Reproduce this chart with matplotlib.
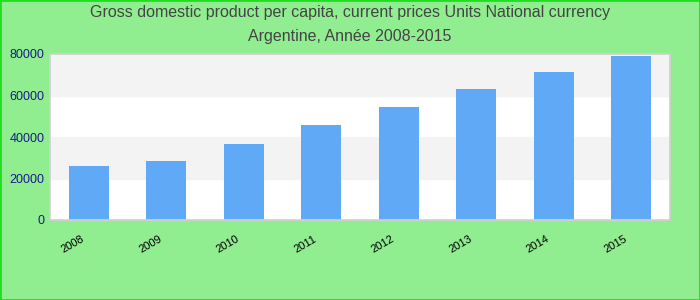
import matplotlib
matplotlib.use("Agg")
import matplotlib.pyplot as plt
from matplotlib.patches import Rectangle
from matplotlib.transforms import ScaledTranslation

years = ["2008", "2009", "2010", "2011", "2012", "2013", "2014", "2015"]
values = [26000, 28400, 36600, 45800, 54400, 63100, 71300, 79000]
yticks = [0, 20000, 40000, 60000, 80000]

fig = plt.figure(figsize=(7, 3), dpi=100, facecolor="#90ee90")
ax = fig.add_axes([50/700, 1-220/300, 620/700, 166/300])
ax.set_facecolor("white")
for i in range(len(yticks) - 1):
    if i % 2 == 1:
        ax.axhspan(yticks[i], yticks[i+1], color="#f3f3f3", zorder=0)
x = range(len(years))
ax.bar(x, values, width=0.52, color="#60a9f6", zorder=2)
ax.set_xlim(-0.5, len(years) - 0.5)
ax.set_ylim(0, 80000)
ax.set_yticks(yticks)
ax.set_yticklabels([str(v) for v in yticks], color="#1a1a8c", fontsize=9, family="Liberation Sans")
ax.set_xticks(list(x))
ax.set_xticklabels(years, rotation=30, fontsize=8, family="Liberation Sans", ha="center")
ax.tick_params(axis="both", length=0, pad=4)
ax.tick_params(axis="x", pad=10)
off = ScaledTranslation(-16/100, 0, fig.dpi_scale_trans)
for lab in ax.get_xticklabels():
    lab.set_transform(lab.get_transform() + off)
for s in ax.spines.values():
    s.set_color("#d0d0d0")
    s.set_linewidth(1.2)
fig.text(0.5, 1-13/300, "Gross domestic product per capita, current prices Units National currency",
         ha="center", va="center", fontsize=11.5, color="#444444", family="Liberation Sans")
fig.text(0.5, 1-37/300, "Argentine, Année 2008-2015",
         ha="center", va="center", fontsize=11.5, color="#444444", family="Liberation Sans")
fig.patches.append(Rectangle((0, 0), 1, 1, transform=fig.transFigure, fill=False,
                             edgecolor="#22dd22", linewidth=2, figure=fig))
fig.savefig("out.png", dpi=100, facecolor=fig.get_facecolor())
